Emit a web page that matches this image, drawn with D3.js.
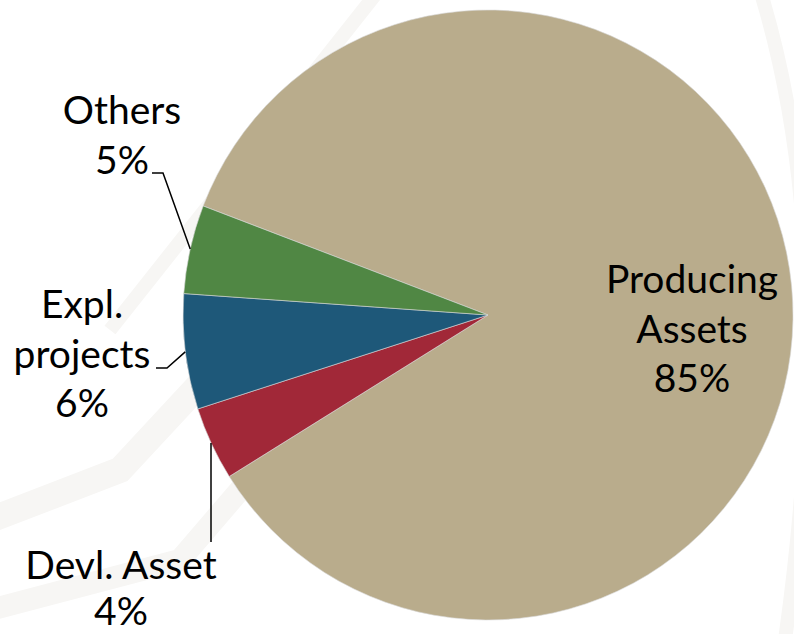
<!DOCTYPE html>
<html>
<head>
<meta charset="utf-8">
<script src="https://cdn.jsdelivr.net/npm/d3@7"></script>
<style>
  html, body { margin: 0; padding: 0; background: #ffffff; }
  svg { display: block; }
</style>
</head>
<body>
<div id="chart"></div>
<script>
// ---- data ----
const categories = ["Producing Assets", "Devl. Asset", "Expl. projects", "Others"];
const values = [85.3, 3.9, 6.1, 4.7];
const valueLabels = ["85%", "4%", "6%", "5%"];
const colors = ["#B9AC8C", "#A12838", "#1E5879", "#508744"];

const labelLines = [
  ["Producing", "Assets", "85%"],
  ["Devl. Asset", "4%"],
  ["Expl.", "projects", "6%"],
  ["Others", "5%"]
];

// ---- layout ----
const W = 794, H = 634;
const cx = 488, cy = 315, R = 305;
const startDeg = -69.05;

const svg = d3.select("#chart").append("svg")
  .attr("width", W).attr("height", H);

// very faint decorative background watermark
const bg = svg.append("g").attr("fill", "none").attr("stroke", "#F7F6F4");
bg.append("path").attr("d", "M110,330 L375,-5").attr("stroke-width", 14);
bg.append("path").attr("d", "M-10,520 L120,470 L250,330").attr("stroke-width", 26);
bg.append("path").attr("d", "M-10,610 L180,560 L300,420").attr("stroke-width", 22);
bg.append("path").attr("d", "M760,-10 Q840,250 785,640").attr("stroke-width", 14);

const pie = d3.pie().sort(null).value(d => d)
  .startAngle(startDeg * Math.PI / 180)
  .endAngle((startDeg + 360) * Math.PI / 180);
const arcs = pie(values);
const arc = d3.arc().innerRadius(0).outerRadius(R);

const g = svg.append("g").attr("transform", `translate(${cx},${cy})`);
g.selectAll("path.slice").data(arcs).join("path")
  .attr("class", "slice")
  .attr("d", arc)
  .attr("fill", (d, i) => colors[i])
  .attr("stroke", "#d8d8d8")
  .attr("stroke-width", 0.6);

// leader lines (from label to slice edge midpoint)
function edgePoint(d, f) {
  const a = d.startAngle + (d.endAngle - d.startAngle) * f;
  return [cx + R * Math.sin(a), cy - R * Math.cos(a)];
}
const lines = svg.append("g").attr("fill", "none").attr("stroke", "#000").attr("stroke-width", 1.5);
{
  const p = edgePoint(arcs[3], 0.5);
  lines.append("path").attr("d", d3.line()([[152, 173], [163, 173], p]));
}
{
  const p = edgePoint(arcs[2], 0.5);
  lines.append("path").attr("d", d3.line()([[156, 368], [167, 368], p]));
}
{
  lines.append("path").attr("d", d3.line()([[211, 443], [211, 542]]));
}

// labels
const fontFamily = "'Gill Sans', 'Gill Sans MT', Lato, 'Open Sans', sans-serif";
const labelPos = [
  { x: 692, y: 293 },
  { x: 121, y: 579 },
  { x: 82, y: 318 },
  { x: 122, y: 124 }
];
const lineH = 49.5;
const tg = svg.append("g")
  .attr("font-family", fontFamily)
  .attr("font-size", 39)
  .attr("fill", "#000")
  .attr("text-anchor", "middle");
labelLines.forEach((ls, i) => {
  const t = tg.append("text")
    .attr("x", labelPos[i].x).attr("y", labelPos[i].y);
  ls.forEach((s, j) => {
    t.append("tspan").attr("x", labelPos[i].x).attr("dy", j === 0 ? 0 : (i === 1 ? 46 : lineH)).text(s);
  });
});
</script>
</body>
</html>
